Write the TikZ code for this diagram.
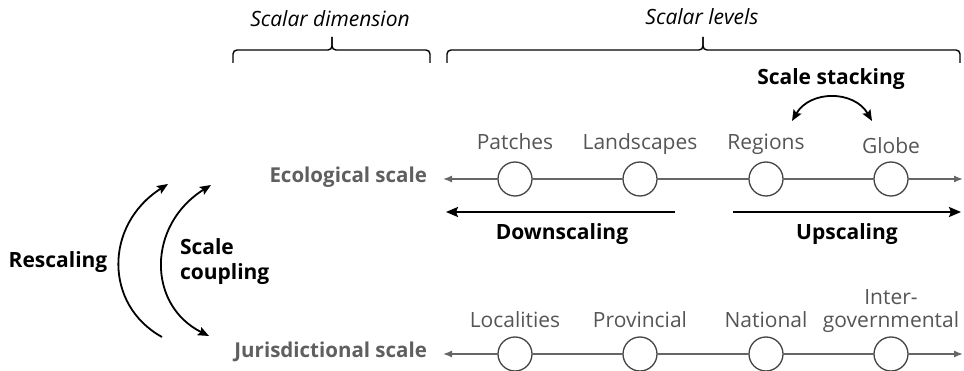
\documentclass[tikz,border=0pt]{standalone}
\usepackage{fontspec}
\setmainfont{Open Sans}
\usetikzlibrary{arrows.meta}
\definecolor{gtxt}{HTML}{5F5F5F}
\definecolor{ltxt}{HTML}{555555}
\definecolor{gline}{HTML}{666666}
\definecolor{gcirc}{HTML}{444444}
\tikzset{
  every node/.style={inner sep=0pt,outer sep=0pt,font=\fontsize{21}{25}\selectfont},
  lvl/.style={circle,draw=gcirc,line width=1.3pt,fill=white,minimum size=34pt},
  axis/.style={draw=gline,line width=1.4pt},
  axtip/.style={-{Latex[length=9pt,width=7pt]}},
  lab/.style={anchor=base,text=ltxt},
  scalelab/.style={anchor=base east,text=gtxt,font=\fontsize{20.5}{25}\selectfont\bfseries},
  bold/.style={font=\fontsize{21}{25}\selectfont\bfseries},
  hdr/.style={anchor=base,font=\fontsize{21}{25}\selectfont\itshape},
  brace/.style={draw=black,line width=1.4pt,rounded corners=4pt},
  blk/.style={draw=black,line width=2.2pt},
  blktip/.style={-{Stealth[length=12pt,width=10pt,inset=2pt]}},
}
\begin{document}
\begin{tikzpicture}[x=1pt,y=-1pt]
\useasboundingbox (0,0) rectangle (964,371);
% headers
\node[hdr] (hdim) at (330,27) {Scalar dimension};
\node[hdr] (hlev) at (702,25) {Scalar levels};
\draw[brace] (233,63) -- (233,50) -- (332,50) -- (332,37);
\draw[brace] (332,37) -- (332,50) -- (430,50) -- (430,63);
\draw[brace] (447,63) -- (447,50) -- (703,50) -- (703,37);
\draw[brace] (703,37) -- (703,50) -- (960,50) -- (960,63);
% ecological scale
\node[scalelab] (ecol) at (427,183) {Ecological scale};
\coordinate (eL) at (443,179);
\coordinate (eR) at (963,179);
\node[lvl] (e1) at (515,179) {};
\node[lvl] (e2) at (640,179) {};
\node[lvl] (e3) at (766,179) {};
\node[lvl] (e4) at (891,179) {};
\draw[axis,axtip] (e1) -- (eL);
\draw[axis] (e1) -- (e2);
\draw[axis] (e2) -- (e3);
\draw[axis] (e3) -- (e4);
\draw[axis,axtip] (e4) -- (eR);
\node[lab] (tpat) at (515,150) {Patches};
\node[lab] (tlan) at (640,150) {Landscapes};
\node[lab] (treg) at (766,150) {Regions};
\node[lab] (tglo) at (891,154) {Globe};
% downscaling / upscaling
\coordinate (dR) at (675,212);
\coordinate (dL) at (446,212);
\coordinate (uL) at (733,212);
\coordinate (uR) at (961,212);
\draw[blk,blktip] (dR) -- (dL);
\draw[blk,blktip] (uL) -- (uR);
\node[bold,anchor=base] (tdown) at (562,240) {Downscaling};
\node[bold,anchor=base] (tup) at (847,240) {Upscaling};
% scale stacking
\node[bold,anchor=base] (tstack) at (831,85) {Scale stacking};
\coordinate (sL) at (792,121);
\coordinate (sR) at (872,121);
\draw[blk,line width=1.8pt,{Stealth[length=11pt,width=9pt,inset=2pt]}-{Stealth[length=11pt,width=9pt,inset=2pt]}] (sL) .. controls (810,90) and (854,90) .. (sR);
% jurisdictional scale
\node[scalelab] (juri) at (427,358) {Jurisdictional scale};
\coordinate (jL) at (443,354);
\coordinate (jR) at (963,354);
\node[lvl] (j1) at (515,354) {};
\node[lvl] (j2) at (640,354) {};
\node[lvl] (j3) at (766,354) {};
\node[lvl] (j4) at (891,354) {};
\draw[axis,axtip] (j1) -- (jL);
\draw[axis] (j1) -- (j2);
\draw[axis] (j2) -- (j3);
\draw[axis] (j3) -- (j4);
\draw[axis,axtip] (j4) -- (jR);
\node[lab] (tloc) at (515,327) {Localities};
\node[lab] (tpro) at (640,327) {Provincial};
\node[lab] (tnat) at (766,327) {National};
\node[lab] (tint) at (891,327) {governmental};
\node[lab] (tint2) at (891,305) {Inter-};
% rescaling / coupling
\node[bold,anchor=base] (tres) at (58,268) {Rescaling};
\node[bold,anchor=base west] (tsc1) at (180,255) {Scale};
\node[bold,anchor=base west] (tsc2) at (180,280) {coupling};
\coordinate (rB) at (162,337);
\coordinate (rT) at (168,184);
\coordinate (cB) at (209,336);
\coordinate (cT) at (211,185);
\draw[blk,line width=1.8pt,-{Stealth[length=11pt,width=9pt,inset=2pt]}] (rB) .. controls (104,305) and (104,225) .. (rT);
\draw[blk,line width=1.8pt,{Stealth[length=11pt,width=9pt,inset=2pt]}-{Stealth[length=11pt,width=9pt,inset=2pt]}] (cB) .. controls (147,305) and (147,225) .. (cT);
\end{tikzpicture}
\end{document}
